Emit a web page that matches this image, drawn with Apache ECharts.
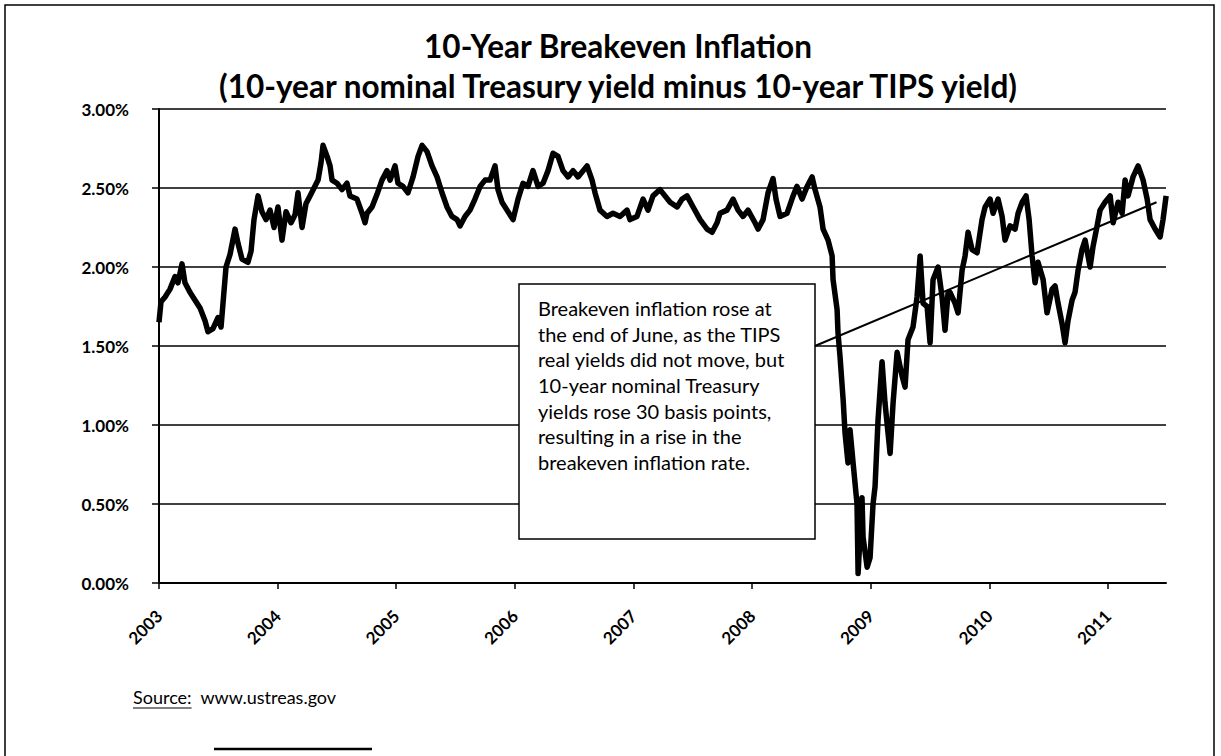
<!DOCTYPE html>
<html>
<head>
<meta charset="utf-8">
<title>10-Year Breakeven Inflation</title>
<script src="https://cdn.jsdelivr.net/npm/echarts@6/dist/echarts.min.js"></script>
<style>
  html, body { margin: 0; padding: 0; background: #fff; }
  #chart { width: 1221px; height: 756px; }
</style>
</head>
<body>
<div id="chart"></div>
<script>
  // breakeven (percent), [decimal year, value]
  const be2003 = [[2003.000,1.65],[2003.017,1.78],[2003.051,1.81],[2003.093,1.86],[2003.135,1.94],[2003.160,1.90],[2003.194,2.02],[2003.219,1.90],[2003.261,1.84],[2003.304,1.79],[2003.346,1.74],[2003.388,1.66],[2003.413,1.59],[2003.455,1.61],[2003.497,1.68],[2003.523,1.62],[2003.565,2.00],[2003.599,2.08],[2003.641,2.24],[2003.666,2.15],[2003.700,2.05],[2003.750,2.03],[2003.776,2.10],[2003.801,2.30],[2003.835,2.45],[2003.868,2.35],[2003.902,2.30],[2003.936,2.36],[2003.970,2.25]]
  const be2004 = [[2004.003,2.38],[2004.037,2.17],[2004.071,2.35],[2004.113,2.28],[2004.147,2.33],[2004.172,2.47],[2004.206,2.25],[2004.239,2.40],[2004.273,2.45],[2004.307,2.50],[2004.341,2.55],[2004.366,2.66],[2004.383,2.77],[2004.417,2.70],[2004.442,2.64],[2004.459,2.55],[2004.501,2.53],[2004.543,2.49],[2004.585,2.53],[2004.610,2.45],[2004.669,2.43],[2004.712,2.34],[2004.737,2.28],[2004.754,2.34],[2004.796,2.38],[2004.838,2.46],[2004.880,2.55],[2004.922,2.61],[2004.948,2.55]]
  const be2005 = [[2004.990,2.64],[2005.015,2.53],[2005.057,2.51],[2005.099,2.47],[2005.142,2.57],[2005.184,2.70],[2005.218,2.77],[2005.260,2.73],[2005.302,2.64],[2005.344,2.57],[2005.386,2.47],[2005.428,2.38],[2005.470,2.32],[2005.513,2.30],[2005.538,2.26],[2005.580,2.32],[2005.622,2.36],[2005.664,2.43],[2005.707,2.51],[2005.749,2.55],[2005.791,2.55],[2005.833,2.64],[2005.858,2.49],[2005.892,2.41],[2005.934,2.36],[2005.985,2.30]]
  const be2006 = [[2006.027,2.43],[2006.069,2.53],[2006.111,2.51],[2006.153,2.61],[2006.196,2.51],[2006.238,2.53],[2006.280,2.61],[2006.322,2.72],[2006.364,2.70],[2006.406,2.61],[2006.449,2.57],[2006.491,2.61],[2006.533,2.57],[2006.609,2.64],[2006.651,2.55],[2006.676,2.47],[2006.718,2.36],[2006.777,2.32],[2006.828,2.34],[2006.887,2.32],[2006.946,2.36],[2006.971,2.30]]
  const be2007 = [[2007.030,2.32],[2007.081,2.43],[2007.123,2.36],[2007.165,2.45],[2007.224,2.49],[2007.266,2.45],[2007.309,2.41],[2007.368,2.38],[2007.410,2.43],[2007.452,2.45],[2007.503,2.38],[2007.562,2.30],[2007.621,2.24],[2007.663,2.22],[2007.705,2.28],[2007.730,2.34],[2007.789,2.36],[2007.840,2.43],[2007.882,2.36],[2007.924,2.32],[2007.966,2.36]]
  const be2008 = [[2008.025,2.28],[2008.051,2.24],[2008.093,2.30],[2008.135,2.47],[2008.177,2.56],[2008.202,2.43],[2008.236,2.32],[2008.295,2.34],[2008.346,2.45],[2008.379,2.51],[2008.422,2.43],[2008.464,2.51],[2008.506,2.57],[2008.531,2.49],[2008.573,2.38],[2008.599,2.24],[2008.641,2.17],[2008.675,2.07],[2008.683,1.92],[2008.717,1.73],[2008.725,1.58],[2008.742,1.43],[2008.768,1.16],[2008.784,0.95],[2008.809,0.76],[2008.826,0.97],[2008.852,0.76],[2008.885,0.50],[2008.894,0.06],[2008.927,0.54],[2008.936,0.29],[2008.970,0.10],[2008.995,0.16]]
  const be2009 = [[2009.020,0.50],[2009.037,0.61],[2009.062,1.03],[2009.096,1.40],[2009.121,1.14],[2009.164,0.82],[2009.189,1.14],[2009.223,1.46],[2009.265,1.31],[2009.290,1.24],[2009.315,1.54],[2009.357,1.62],[2009.391,1.81],[2009.417,2.07],[2009.442,1.77],[2009.476,1.75],[2009.501,1.52],[2009.526,1.92],[2009.568,2.00],[2009.602,1.81],[2009.627,1.60],[2009.653,1.84],[2009.669,1.84],[2009.712,1.77],[2009.737,1.71],[2009.771,1.98],[2009.796,2.07],[2009.821,2.22],[2009.855,2.11],[2009.897,2.09],[2009.939,2.30],[2009.965,2.38]]
  const be2010 = [[2010.007,2.43],[2010.032,2.34],[2010.074,2.43],[2010.108,2.32],[2010.133,2.17],[2010.175,2.26],[2010.218,2.24],[2010.243,2.34],[2010.277,2.41],[2010.310,2.45],[2010.336,2.30],[2010.361,2.07],[2010.386,1.90],[2010.411,2.03],[2010.454,1.92],[2010.487,1.71],[2010.530,1.86],[2010.555,1.88],[2010.580,1.77],[2010.614,1.64],[2010.639,1.52],[2010.664,1.66],[2010.698,1.79],[2010.723,1.84],[2010.749,1.98],[2010.782,2.11],[2010.808,2.17],[2010.850,2.00],[2010.875,2.13],[2010.909,2.26],[2010.934,2.36],[2010.976,2.41]]
  const be2011 = [[2011.019,2.45],[2011.044,2.28],[2011.086,2.41],[2011.120,2.34],[2011.145,2.55],[2011.170,2.45],[2011.212,2.57],[2011.255,2.64],[2011.297,2.55],[2011.331,2.43],[2011.356,2.30],[2011.398,2.24],[2011.440,2.19],[2011.465,2.30],[2011.491,2.45]]

  // linear trend drawn from the box edge to mid-2011
  const trendYears = [2008.53, 2011.41]
  const trendValues = [1.50, 2.41]

  const yearTicks = [2003, 2004, 2005, 2006, 2007, 2008, 2009, 2010, 2011]
  const noteLines = [
    'Breakeven inflation rose at',
    'the end of June, as the TIPS',
    'real yields did not move, but',
    '10-year nominal Treasury',
    'yields rose 30 basis points,',
    'resulting in a rise in the',
    'breakeven inflation rate.'
  ]

  const breakeven = [].concat(be2003, be2004, be2005, be2006, be2007, be2008, be2009, be2010, be2011)
  const trend = trendYears.map((t, i) => [t, trendValues[i]])

  const FONT = 'Lato, "Open Sans", sans-serif'
  const measure = document.createElement('canvas').getContext('2d')
  measure.font = '18px ' + FONT
  const sourceWidth = measure.measureText('Source:').width

  const chart = echarts.init(document.getElementById('chart'), null, { renderer: 'svg' })
  chart.setOption({
    animation: false,
    backgroundColor: '#fff',
    grid: {
      left: 159,
      right: 55,
      top: 109,
      bottom: 173
    },
    xAxis: {
      type: 'value',
      min: 2003,
      max: 2011.49,
      interval: 1,
      axisLine: { lineStyle: { color: '#000', width: 2 } },
      axisTick: { customValues: yearTicks, length: 6, lineStyle: { color: '#000', width: 1.5 } },
      axisLabel: {
        customValues: yearTicks,
        rotate: 45,
        margin: 30,
        color: '#000',
        fontFamily: FONT,
        fontSize: 17,
        fontWeight: 'bold',
        formatter: v => String(v)
      },
      splitLine: { show: false }
    },
    yAxis: {
      type: 'value',
      min: 0,
      max: 3,
      interval: 0.5,
      axisLine: { show: true, lineStyle: { color: '#000', width: 2 } },
      axisTick: { show: true, length: 7, lineStyle: { color: '#000', width: 1.5 } },
      axisLabel: {
        margin: 30,
        color: '#000',
        fontFamily: FONT,
        fontSize: 17,
        fontWeight: 'bold',
        formatter: v => v.toFixed(2) + '%'
      },
      splitLine: { lineStyle: { color: '#000', width: 1.6 } }
    },
    series: [
      {
        name: 'trend',
        type: 'line',
        data: trend,
        showSymbol: false,
        z: 2,
        lineStyle: { color: '#000', width: 2 }
      },
      {
        name: '10-Year Breakeven',
        type: 'line',
        data: breakeven,
        showSymbol: false,
        z: 3,
        lineStyle: { color: '#000', width: 5.5, join: 'round' }
      }
    ],
    graphic: [
      {
        type: 'rect',
        z: 100,
        shape: { x: 5, y: 5, width: 1209, height: 800 },
        style: { fill: 'none', stroke: '#000', lineWidth: 1.5 }
      },
      {
        type: 'text',
        z: 100,
        x: 618,
        y: 46,
        style: {
          text: '10-Year Breakeven Inflation',
          font: 'bold 31.5px ' + FONT,
          fill: '#000',
          align: 'center',
          verticalAlign: 'middle'
        }
      },
      {
        type: 'text',
        z: 100,
        x: 618,
        y: 86,
        style: {
          text: '(10-year nominal Treasury yield minus 10-year TIPS yield)',
          font: 'bold 31.5px ' + FONT,
          fill: '#000',
          align: 'center',
          verticalAlign: 'middle'
        }
      },
      {
        type: 'rect',
        z: 100,
        shape: { x: 519, y: 284, width: 296, height: 255 },
        style: { fill: '#fff', stroke: '#000', lineWidth: 1.5 }
      },
      {
        type: 'text',
        z: 101,
        x: 538,
        y: 295,
        style: {
          text: noteLines.join('\n'),
          font: '20px ' + FONT,
          lineHeight: 25.7,
          fill: '#000',
          align: 'left',
          verticalAlign: 'top'
        }
      },
      {
        type: 'text',
        z: 100,
        x: 133,
        y: 697,
        style: {
          text: 'Source:  www.ustreas.gov',
          font: '18px ' + FONT,
          fill: '#000',
          align: 'left',
          verticalAlign: 'middle'
        }
      },
      {
        type: 'line',
        z: 100,
        shape: { x1: 133, y1: 708, x2: 133 + sourceWidth, y2: 708 },
        style: { stroke: '#000', lineWidth: 1 }
      },
      {
        type: 'line',
        z: 100,
        shape: { x1: 214, y1: 749, x2: 372, y2: 749 },
        style: { stroke: '#000', lineWidth: 2.5 }
      }
    ]
  })
</script>
</body>
</html>
